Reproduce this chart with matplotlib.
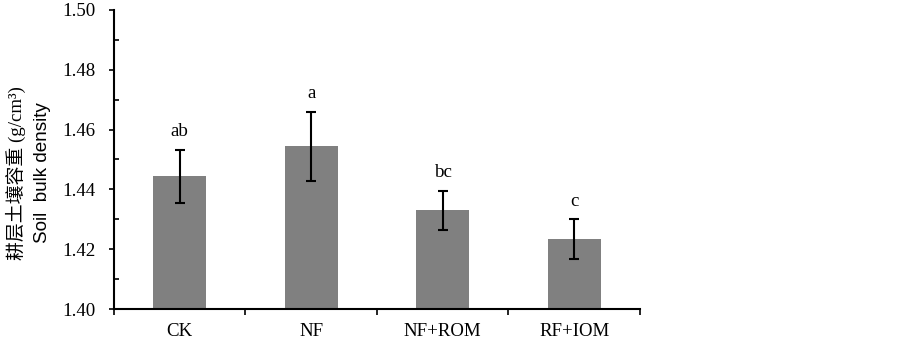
import matplotlib
matplotlib.use("Agg")
import matplotlib.pyplot as plt
from matplotlib.ticker import MultipleLocator

treatments = ["CK", "NF", "NF+ROM", "RF+IOM"]
bulk_density = [1.4444, 1.4544, 1.4330, 1.4233]
bulk_err = [0.0088, 0.0116, 0.0065, 0.0067]
groups = ["ab", "a", "bc", "c"]

serif = ["Liberation Serif", "Noto Sans CJK SC"]
fs = 13.6

fig = plt.figure(figsize=(9.03, 3.4), dpi=100)
ax = fig.add_axes([0.1262, 0.091, 0.5825, 0.880])

x = list(range(len(treatments)))
ax.bar(x, bulk_density, width=0.4, color="#808080", zorder=2)
ax.errorbar(x, bulk_density, yerr=bulk_err, fmt="none", ecolor="black",
            elinewidth=1.5, capsize=3.5, capthick=1.5, zorder=3)

for xi, v, e, g in zip(x, bulk_density, bulk_err, groups):
    ax.annotate(g, (xi, v + e), xytext=(0, 7), textcoords="offset points",
                ha="center", va="bottom", fontsize=fs, family=serif)

ax.set_xlim(-0.5, 3.5)
ax.set_ylim(1.40, 1.50)
ax.yaxis.set_major_locator(MultipleLocator(0.02))
ax.yaxis.set_minor_locator(MultipleLocator(0.01))
ax.set_yticklabels([f"{t:.2f}" for t in ax.get_yticks()], family=serif, fontsize=fs)

# category ticks sit on the boundaries, labels in the middle
ax.set_xticks([-0.5, 0.5, 1.5, 2.5, 3.5])
ax.set_xticklabels([])
ax.set_xticks(x, minor=True)
ax.set_xticklabels(treatments, minor=True, family=serif, fontsize=fs)
ax.tick_params(axis="x", which="major", direction="out", length=4, width=1.2)
ax.tick_params(axis="x", which="minor", length=0, pad=10)
ax.tick_params(axis="y", which="major", direction="out", length=3.5, width=1.2, pad=9.5)
ax.tick_params(axis="y", which="minor", direction="in", length=3.5, width=1.2)

for side in ["top", "right"]:
    ax.spines[side].set_visible(False)
for side in ["left", "bottom"]:
    ax.spines[side].set_linewidth(1.5)

fig.text(0.018, 0.491, "耕层土壤容重 (g/cm³)", rotation=90, ha="center", va="center",
         fontsize=fs, family=serif)
fig.text(0.047, 0.491, "Soil  bulk density", rotation=90, ha="center", va="center",
         fontsize=fs, family=["Liberation Sans"])

fig.savefig("out.png", dpi=100)
